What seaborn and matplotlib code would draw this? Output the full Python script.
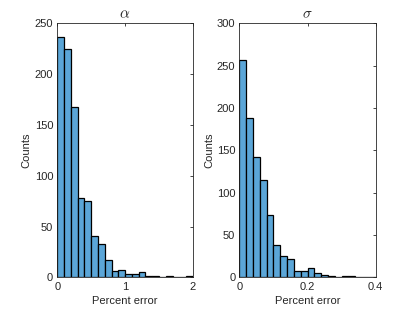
import numpy as np
import pandas as pd
import seaborn as sns
import matplotlib.pyplot as plt

# histogram bin counts
alpha_edges = [round(0.1 * i, 2) for i in range(21)]
alpha_counts = [237, 225, 168, 78, 75, 41, 33, 17, 6, 7,
                3, 3, 5, 1, 1, 0, 1, 0, 0, 1]
sigma_edges = [round(0.02 * i, 3) for i in range(21)]
sigma_counts = [257, 188, 142, 115, 74, 38, 25, 22, 7, 8,
                11, 5, 3, 2, 1, 2, 2, 0, 0, 0]

sns.set_style("white")
plt.rcParams['font.family'] = ['Liberation Sans', 'DejaVu Sans']
plt.rcParams['mathtext.fontset'] = 'cm'

bar_color = "#5ba6d8"
axis_color = "#262626"


def hist_panel(ax, edges, counts, title, xticks, xlabels, ylim, yticks):
    """ draws one panel of the figure """
    e = np.array(edges)
    df = pd.DataFrame({"err": (e[:-1] + e[1:]) / 2, "n": counts})
    sns.histplot(data=df, x="err", weights="n", bins=edges, ax=ax,
                 color=bar_color, alpha=1, edgecolor="black", linewidth=0.9)
    ax.set_xlim(edges[0], edges[-1])
    ax.set_ylim(*ylim)
    ax.set_xticks(xticks)
    ax.set_xticklabels(xlabels)
    ax.set_yticks(yticks)
    ax.set_title(title, fontsize=11, pad=4)
    ax.set_xlabel("Percent error", fontsize=8, labelpad=3)
    ax.set_ylabel("Counts", fontsize=8, labelpad=2)
    ax.tick_params(direction="in", length=2.5, width=0.6, labelsize=8,
                   top=True, right=True, colors=axis_color, pad=3)
    for s in ax.spines.values():
        s.set_visible(True)
        s.set_color(axis_color)
        s.set_linewidth(0.6)


fig = plt.figure(figsize=(4.15, 3.12), dpi=100)
ax1 = fig.add_axes([0.138, 0.111, 0.327, 0.814])
ax2 = fig.add_axes([0.577, 0.111, 0.328, 0.814])

hist_panel(ax1, alpha_edges, alpha_counts, r"$\alpha$", [0, 1, 2], ["0", "1", "2"],
           (0, 250), [0, 50, 100, 150, 200, 250])
hist_panel(ax2, sigma_edges, sigma_counts, r"$\sigma$", [0, 0.2, 0.4], ["0", "0.2", "0.4"],
           (0, 300), [0, 50, 100, 150, 200, 250, 300])

fig.savefig("out.png", dpi=100)
